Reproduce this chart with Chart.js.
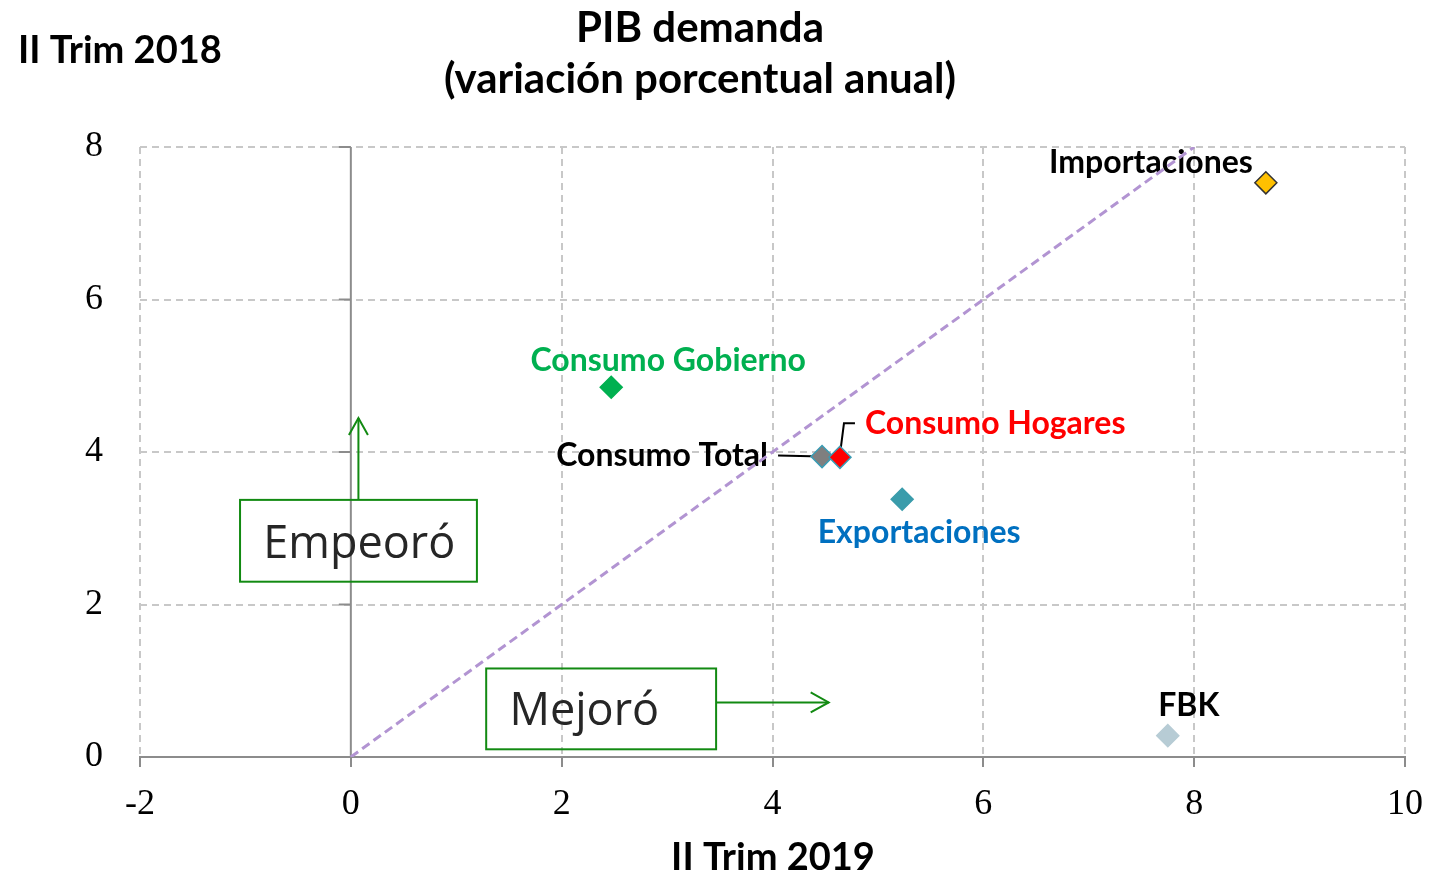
<!DOCTYPE html>
<html>
<head>
<meta charset="utf-8">
<script src="https://cdn.jsdelivr.net/npm/chart.js@4.4.1/dist/chart.umd.min.js"></script>
<style>
  html, body { margin: 0; background: #fff; }
  #wrap { width: 1432px; height: 877px; }
</style>
</head>
<body>
<div id="wrap"><canvas id="pibChart"></canvas></div>
<script>
// data
const categories = ["Consumo Total", "Consumo Hogares", "Consumo Gobierno", "FBK", "Exportaciones", "Importaciones"]
const trim2019 = [4.47, 4.64, 2.47, 7.75, 5.23, 8.68]   // x
const trim2018 = [3.94, 3.93, 4.85, 0.28, 3.38, 7.53]   // y
const diagX = [0, 8]
const diagY = [0, 8]
const xTickValues = [-2, 0, 2, 4, 6, 8, 10]
const yTickValues = [0, 2, 4, 6, 8]

const fillColors = ["#7f7f7f", "#ff0000", "#00b050", "#b7ccd5", "#3a9cab", "#ffc000"]
const edgeColors = ["#3a9cb4", "#3a9cb4", "#00b050", "#b7ccd5", "#3a9cab", "#333333"]
const textColors = ["#000000", "#ff0000", "#00b050", "#000000", "#0070c0", "#000000"]

// label placement relative to each marker (px)
const labelPlace = {
  "Consumo Total":    { dx: -54, dy: -1,  align: "right",  leader: [[-44, -1], [0, 0]] },
  "Consumo Hogares":  { dx: 25,  dy: -34, align: "left",   leader: [[0, -3], [4, -34], [15, -34]] },
  "Consumo Gobierno": { dx: 57,  dy: -27, align: "center" },
  "FBK":              { dx: 21,  dy: -30, align: "center" },
  "Exportaciones":    { dx: 17,  dy: 33,  align: "center" },
  "Importaciones":    { dx: -13, dy: -20, align: "right" }
}

const GREEN = "#128a12"
const labelFont = "bold 32px Lato"

function seg(ctx, pts) {
  ctx.beginPath()
  ctx.moveTo(pts[0][0], pts[0][1])
  for (let i = 1; i < pts.length; i++) ctx.lineTo(pts[i][0], pts[i][1])
  ctx.stroke()
}

const overlay = {
  id: "overlay",
  beforeDatasetsDraw(chart) {
    const { ctx, scales: { x, y } } = chart
    const x0 = x.getPixelForValue(0)
    ctx.save()
    // vertical axis through zero with its ticks
    ctx.strokeStyle = "#8c8c8c"
    ctx.lineWidth = 2
    seg(ctx, [[x0, y.getPixelForValue(8)], [x0, y.getPixelForValue(0)]])
    yTickValues.forEach(v => {
      const py = y.getPixelForValue(v)
      seg(ctx, [[x0 - 12, py], [x0, py]])
    })
    // point labels and leaders
    const meta = chart.getDatasetMeta(0)
    ctx.font = labelFont
    ctx.textBaseline = "middle"
    meta.data.forEach((pt, i) => {
      const p = labelPlace[categories[i]]
      if (p.leader) {
        ctx.strokeStyle = "#000"
        ctx.lineWidth = 2
        seg(ctx, p.leader.map(d => [pt.x + d[0], pt.y + d[1]]))
      }
      ctx.fillStyle = textColors[i]
      ctx.textAlign = p.align
      ctx.fillText(categories[i], pt.x + p.dx, pt.y + p.dy)
    })
    ctx.restore()
  },
  afterDraw(chart) {
    const { ctx, scales: { x, y } } = chart
    const X = v => x.getPixelForValue(v)
    const Y = v => y.getPixelForValue(v)
    ctx.save()
    ctx.fillStyle = "#000"
    ctx.textBaseline = "alphabetic"
    ctx.textAlign = "center"
    ctx.font = "bold 42px Lato"
    ctx.fillText("PIB demanda", 700, 42)
    ctx.fillText("(variación porcentual anual)", 700, 93)
    ctx.font = "bold 38px Lato"
    ctx.textAlign = "left"
    ctx.fillText("II Trim 2018", 18, 63)
    ctx.textAlign = "center"
    ctx.fillText("II Trim 2019", 773, 870)

    // boxes with arrows
    ctx.strokeStyle = GREEN
    ctx.lineWidth = 2
    ctx.strokeRect(X(-1.051), Y(3.372), X(1.196) - X(-1.051), Y(2.299) - Y(3.372))
    ctx.strokeRect(X(1.284), Y(1.161), X(3.465) - X(1.284), Y(0.101) - Y(1.161))
    const ax = X(0.072), ayTop = Y(4.446)
    seg(ctx, [[ax, Y(3.372)], [ax, ayTop]])
    seg(ctx, [[ax - 9.5, ayTop + 17], [ax, ayTop], [ax + 9.5, ayTop + 17]])
    const by = Y(0.715), bxEnd = X(4.533)
    seg(ctx, [[X(3.465), by], [bxEnd, by]])
    seg(ctx, [[bxEnd - 18, by - 10], [bxEnd, by], [bxEnd - 18, by + 10]])

    ctx.fillStyle = "#262626"
    ctx.font = "45px 'Open Sans'"
    ctx.textAlign = "left"
    ctx.fillText("Empeoró", X(-0.83), Y(2.606))
    ctx.fillText("Mejoró", X(1.505), Y(0.416))
    ctx.restore()
  }
}

const gridColor = c => (c.tick && c.tick.value === 0 ? "rgba(0,0,0,0)" : "#c8c8c8")

new Chart(document.getElementById("pibChart"), {
  type: "scatter",
  data: {
    datasets: [
      {
        label: "PIB demanda",
        data: categories.map((c, i) => ({ x: trim2019[i], y: trim2018[i] })),
        backgroundColor: fillColors,
        borderColor: edgeColors,
        borderWidth: 1.5,
        pointStyle: "rectRot",
        pointRadius: 11,
        pointHoverRadius: 11,
      },
      {
        type: "line",
        label: "45°",
        data: diagX.map((v, i) => ({ x: v, y: diagY[i] })),
        borderColor: "#b294d2",
        borderWidth: 3,
        borderDash: [9, 5],
        pointRadius: 0,
        fill: false,
      },
    ],
  },
  options: {
    responsive: true,
    maintainAspectRatio: false,
    animation: false,
    layout: { padding: { left: 0, top: 147, right: 27, bottom: 0 } },
    plugins: {
      legend: { display: false },
      tooltip: { enabled: false },
    },
    scales: {
      x: {
        type: "linear",
        min: -2,
        max: 10,
        afterBuildTicks: s => { s.ticks = xTickValues.map(v => ({ value: v })) },
        afterFit: s => { s.height = 120; s.paddingRight = 0; s.paddingLeft = 0 },
        ticks: { color: "#000", padding: 16, font: { family: "Liberation Serif", size: 36 } },
        grid: {
          color: gridColor,
          lineWidth: 2,
          drawTicks: true,
          tickLength: 10,
          tickColor: "#8c8c8c",
          tickWidth: 2,
          tickBorderDash: [],
        },
        border: { display: true, color: "#8c8c8c", width: 2, dash: [7, 5] },
      },
      y: {
        min: 0,
        max: 8,
        afterBuildTicks: s => { s.ticks = yTickValues.map(v => ({ value: v })) },
        afterFit: s => { s.width = 140 },
        ticks: { color: "#000", padding: 37, font: { family: "Liberation Serif", size: 36 } },
        grid: { color: gridColor, lineWidth: 2, drawTicks: false },
        border: { display: false, dash: [7, 5] },
      },
    },
  },
  plugins: [overlay],
})
</script>
</body>
</html>
